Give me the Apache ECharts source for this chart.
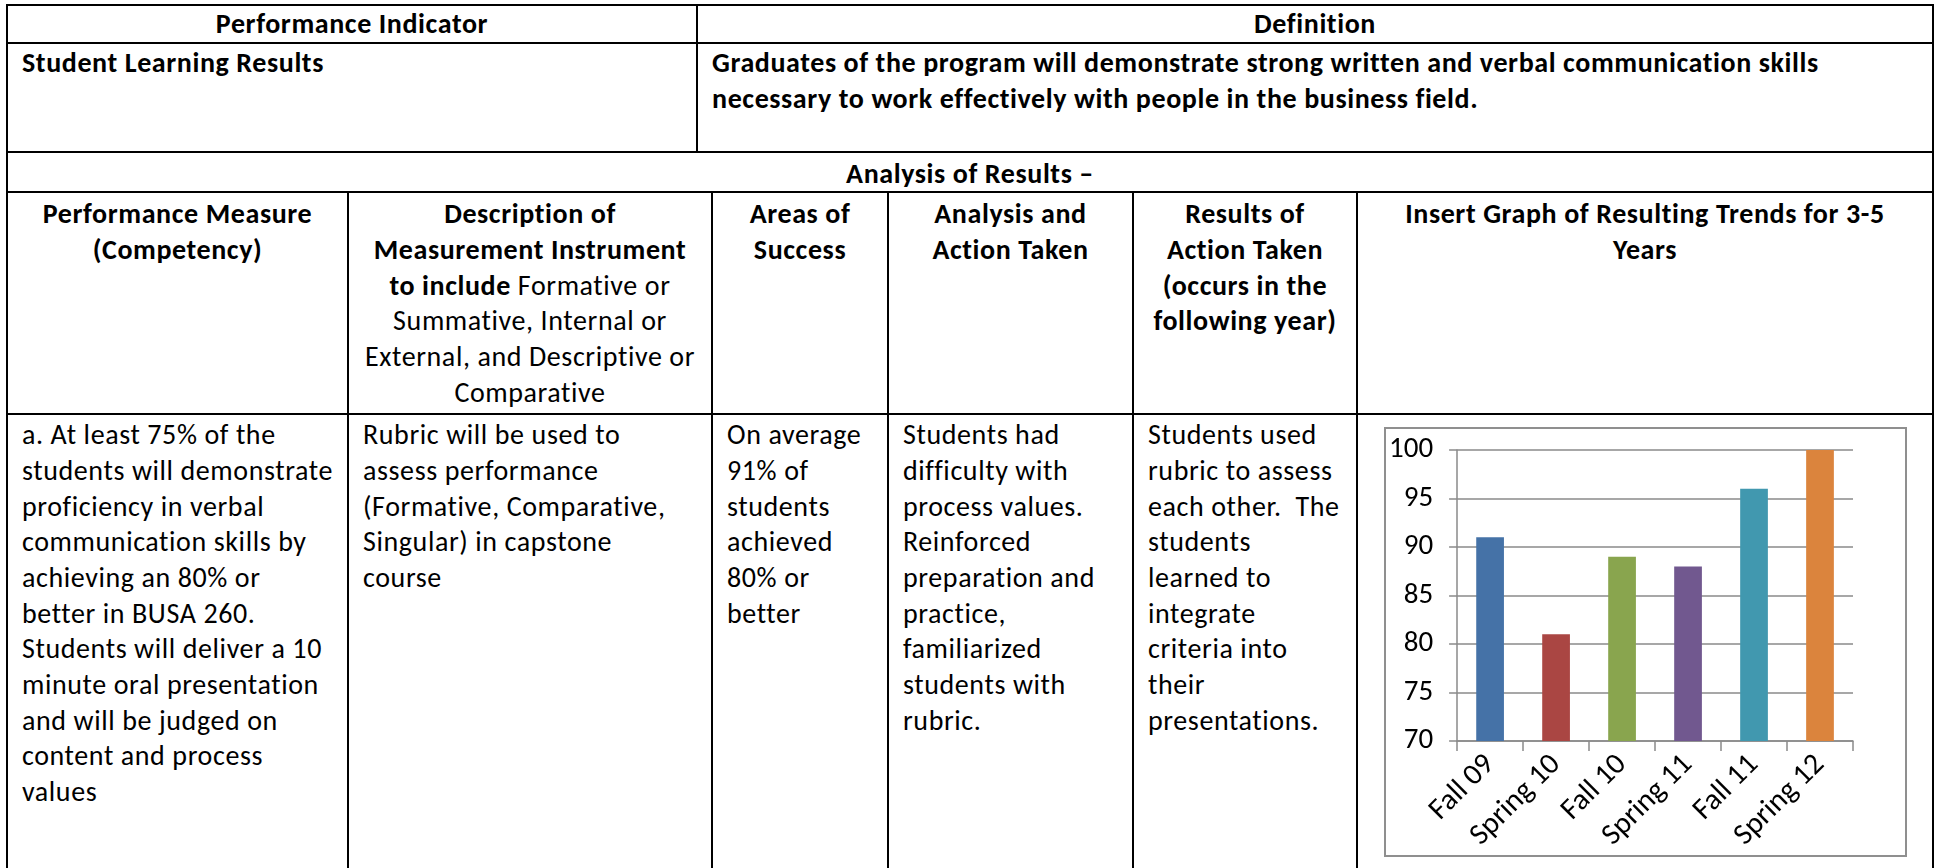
<!DOCTYPE html>
<html>
<head>
<meta charset="utf-8">
<script src="https://cdn.jsdelivr.net/npm/echarts@6/dist/echarts.min.js"></script>
<style>
  html, body { margin: 0; padding: 0; background: #fff; }
  #page { position: relative; width: 1935px; height: 868px; overflow: hidden; background: #fff;
          font-family: "Carlito", "Lato", "Noto Sans", sans-serif; color: #000; }
  .ln { position: absolute; background: #000; }
  .tx { position: absolute; font-size: 28px; letter-spacing: 0.6px; line-height: 35.7px; white-space: pre; }
  .tx div { height: 35.7px; }
  .b { font-weight: bold; }
  .c { text-align: center; }
  #frame { position: absolute; left: 1384px; top: 427px; width: 523px; height: 430px;
           box-sizing: border-box; border: 2px solid #8f8f8f; background: #fff; }
  #chart { position: absolute; left: 0; top: 0; width: 519px; height: 426px; }
</style>
</head>
<body>
<div id="page">
  <div id="frame"><div id="chart"></div></div>
</div>
<script>
// ---- chart data ----
const categories = ["Fall 09", "Spring 10", "Fall 10", "Spring 11", "Fall 11", "Spring 12"];
const scores = [91, 81, 89, 88, 96, 100];
const barColors = ["#4572A7", "#AA4643", "#89A54E", "#71588F", "#4198AF", "#DB843D"];
const yTicks = [70, 75, 80, 85, 90, 95, 100];

// ---- table text ----
const topHeaders = ["Performance Indicator", "Definition"];
const indicatorText = ["Student Learning Results"];
const definitionText = ["Graduates of the program will demonstrate strong written and verbal communication skills",
                        "necessary to work effectively with people in the business field."];
const analysisTitle = "Analysis of Results \u2013";
const colHeaders = [
  ["Performance Measure", "(Competency)"],
  null,
  ["Areas of", "Success"],
  ["Analysis and", "Action Taken"],
  ["Results of", "Action Taken", "(occurs in the", "following year)"],
  ["Insert Graph of Resulting Trends for 3-5", "Years"]
];
const descHeaderLines = ['<b>Description of</b>', '<b>Measurement Instrument</b>', '<b>to include</b> Formative or',
                         'Summative, Internal or', 'External, and Descriptive or', 'Comparative'];
const rowText = [
  ["a. At least 75% of the", "students will demonstrate", "proficiency in verbal", "communication skills by",
   "achieving an 80% or", "better in BUSA 260.", "Students will deliver a 10", "minute oral presentation",
   "and will be judged on", "content and process", "values"],
  ["Rubric will be used to", "assess performance", "(Formative, Comparative,", "Singular) in capstone", "course"],
  ["On average", "91% of", "students", "achieved", "80% or", "better"],
  ["Students had", "difficulty with", "process values.", "Reinforced", "preparation and", "practice,",
   "familiarized", "students with", "rubric."],
  ["Students used", "rubric to assess", "each other.  The", "students", "learned to", "integrate",
   "criteria into", "their", "presentations."]
];

// ---- table layout ----
const page = document.getElementById('page');
const L = 7, R = 1933;
const rowY = [5, 43, 152, 192, 414];
const colX = [L, 348, 712, 888, 1133, 1357, R];
const LH = 35.7;

function line(x, y, w, h) {
  const d = document.createElement('div');
  d.className = 'ln';
  d.style.left = x + 'px'; d.style.top = y + 'px';
  d.style.width = w + 'px'; d.style.height = h + 'px';
  page.insertBefore(d, page.firstChild);
}
function text(lines, x, y, w, cls, html) {
  const d = document.createElement('div');
  d.className = 'tx ' + (cls || '');
  d.style.left = x + 'px'; d.style.top = y + 'px';
  if (w) d.style.width = w + 'px';
  lines.forEach(s => {
    const r = document.createElement('div');
    if (html) r.innerHTML = s; else r.textContent = s;
    d.appendChild(r);
  });
  page.appendChild(d);
}

// horizontal lines
rowY.forEach(y => line(L - 1, y - 1, R - L + 2, 2));
// outer verticals
line(L - 1, rowY[0] - 1, 2, 870);
line(R - 1, rowY[0] - 1, 2, 870);
// middle vertical in first two rows
line(697 - 1, rowY[0], 2, rowY[2] - rowY[0]);
// column verticals from row 4 down
for (let i = 1; i < colX.length - 1; i++) line(colX[i] - 1, rowY[3], 2, 868 - rowY[3]);

// top header
text([topHeaders[0]], L, 24 - LH / 2, 697 - L, 'b c');
text([topHeaders[1]], 697, 24 - LH / 2, R - 697, 'b c');
text(indicatorText, 22, 63 - LH / 2, null, 'b');
text(definitionText, 712, 63 - LH / 2, null, 'b');
text([analysisTitle], L, 174 - LH / 2, R - L, 'b c');

// column headers
const hdrTop = 214 - LH / 2;
colHeaders.forEach((h, i) => {
  if (h) text(h, colX[i], hdrTop, colX[i + 1] - colX[i], 'b c');
});
text(descHeaderLines, colX[1], hdrTop, colX[2] - colX[1], 'c', true);

// data row
const dataTop = 435 - LH / 2;
rowText.forEach((t, i) => text(t, colX[i] + 15, dataTop, null, ''));

// ---- chart ----
const chart = echarts.init(document.getElementById('chart'));
const axisGray = '#8a8a8a';
const labelFont = 'Carlito, Lato, sans-serif';
chart.setOption({
  animation: false,
  backgroundColor: '#fff',
  grid: { left: 67, top: 21, width: 400, height: 291, containLabel: false },
  xAxis: {
    type: 'category',
    data: categories,
    axisLine: { show: true, lineStyle: { color: axisGray, width: 1.5 } },
    axisTick: { show: true, length: 10, lineStyle: { color: axisGray, width: 1.5 } },
    axisLabel: { rotate: 45, margin: 19, fontSize: 30, color: '#000', fontFamily: labelFont, interval: 0 }
  },
  yAxis: {
    type: 'value',
    min: yTicks[0], max: yTicks[yTicks.length - 1], interval: 5,
    axisLine: { show: true, lineStyle: { color: axisGray, width: 1.5 } },
    axisTick: { show: true, length: 8, lineStyle: { color: axisGray, width: 1.5 } },
    splitLine: { show: true, lineStyle: { color: axisGray, width: 1.5 } },
    axisLabel: { margin: 24, fontSize: 29, color: '#000', fontFamily: labelFont }
  },
  series: [{
    type: 'bar',
    barWidth: '42%',
    data: scores.map((v, i) => ({ value: v, itemStyle: { color: barColors[i] } }))
  }]
});
</script>
</body>
</html>
